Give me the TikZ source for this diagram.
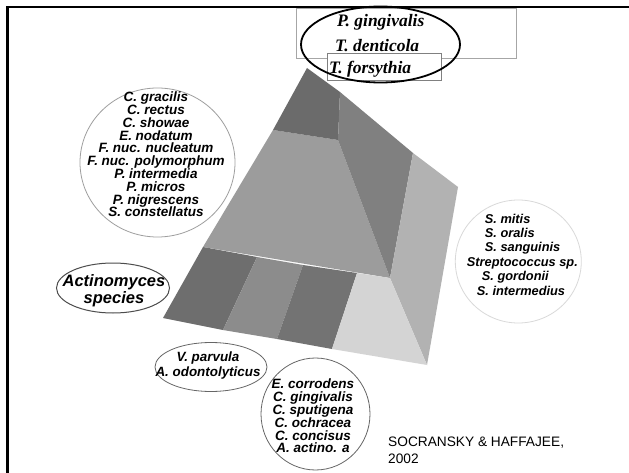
\documentclass[tikz,border=0pt]{standalone}
\usepackage{fontspec}
\setmainfont{Liberation Serif}
\setsansfont{Liberation Sans}
\definecolor{cTop}{gray}{0.42}
\definecolor{cRdark}{gray}{0.50}
\definecolor{cFront}{gray}{0.61}
\definecolor{cRlight}{gray}{0.70}
\definecolor{cBa}{gray}{0.43}
\definecolor{cBb}{gray}{0.55}
\definecolor{cBc}{gray}{0.45}
\definecolor{cBd}{gray}{0.83}
\tikzset{
  species/.style={font=\sffamily\bfseries\itshape\fontsize{13.5}{12.8}\selectfont, align=center, inner sep=0pt},
  redtext/.style={font=\rmfamily\bfseries\itshape\fontsize{17.5}{20}\selectfont, inner sep=0pt, anchor=base west},
  cite/.style={font=\sffamily\fontsize{13.7}{17}\selectfont, align=left, inner sep=0pt, anchor=west},
  oval/.style={line width=0.8pt}
}
\begin{document}
\begin{tikzpicture}[x=1pt,y=-1pt]
\useasboundingbox (0,0) rectangle (629,473);
\fill[white] (0,0) rectangle (629,473);
% frame
\draw[line width=2.6pt] (7.5,473) -- (7.5,7) -- (629,7);
% pyramid coordinates
\coordinate (P0) at (307,68);
\coordinate (D1) at (340,92);
\coordinate (D2) at (338,140);
\coordinate (L1) at (273,130);
\coordinate (R1) at (413,153);
\coordinate (R2) at (458,187);
\coordinate (M) at (390,278);
\coordinate (O1) at (203,247);
\coordinate (BL) at (163,318);
\coordinate (B4) at (427,365);
\coordinate (T1) at (257,257);
\coordinate (T2) at (303,265);
\coordinate (T3) at (357,273);
\coordinate (U1) at (223,330);
\coordinate (U2) at (277,339);
\coordinate (U3) at (332,349);
% faces
\fill[cFront] (L1) -- (D2) -- (M) -- (O1) -- cycle;
\fill[cTop] (P0) -- (D1) -- (D2) -- (L1) -- cycle;
\fill[cRdark] (D1) -- (R1) -- (M) -- (D2) -- cycle;
\fill[cRlight] (R1) -- (R2) -- (B4) -- (M) -- cycle;
\fill[cBa] (O1) -- (T1) -- (U1) -- (BL) -- cycle;
\fill[cBb] (T1) -- (T2) -- (U2) -- (U1) -- cycle;
\fill[cBc] (T2) -- (T3) -- (U3) -- (U2) -- cycle;
\fill[cBd] (T3) -- (M) -- (B4) -- (U3) -- cycle;
% top boxes and red complex
\draw[gray!70, line width=0.6pt] (296,8) rectangle (516,58);
\draw[gray, line width=0.6pt, fill=white] (327,53) rectangle (441,80);
\node[redtext] (pg) at (337,26.7) {P. gingivalis};
\node[redtext] (td) at (335,51.7) {T. denticola};
\node[redtext] (tf) at (329,73.5) {T. forsythia};
\draw[line width=1.8pt] (380.5,44.5) ellipse (79.5 and 38);
% orange complex
\draw[oval, gray!75] (157.5,162.5) ellipse (77.5 and 74.5);
\node[species] (orange) at (156,154.5) {C. gracilis\\C. rectus\\C. showae\\E. nodatum\\F. nuc. nucleatum\\F. nuc. polymorphum\\P. intermedia\\P. micros\\P. nigrescens\\S. constellatus};
% actinomyces
\draw[oval, black!70, line width=1pt] (113,288) ellipse (56.5 and 25);
\node[species, font=\sffamily\bfseries\itshape\fontsize{16.5}{16.5}\selectfont] (acti) at (114,290.5) {Actinomyces\\species};
% purple
\draw[oval, black!60] (211,367) ellipse (56 and 24.5);
\node[species, font=\sffamily\bfseries\itshape\fontsize{13.4}{15}\selectfont] (purple) at (208,366) {V. parvula\\A. odontolyticus};
% green
\draw[oval, black!60] (315.5,414) ellipse (54.5 and 56);
\node[species] (green) at (313,416) {E. corrodens\\C. gingivalis\\C. sputigena\\C. ochracea\\C. concisus\\A. actino. a};
% yellow
\draw[oval, gray!30] (518.3,261.5) ellipse (63 and 61.5);
\node[species, align=left, anchor=west, font=\sffamily\bfseries\itshape\fontsize{12.8}{14.4}\selectfont] (yellow) at (466.7,254.5) {\hspace*{18pt}S. mitis\\\hspace*{18pt}S. oralis\\\hspace*{18pt}S. sanguinis\\Streptococcus sp.\\\hspace*{15pt}S. gordonii\\\hspace*{10pt}S. intermedius};
% citation
\node[cite] (cit) at (388,450.5) {SOCRANSKY \& HAFFAJEE,\\2002};
\end{tikzpicture}
\end{document}
